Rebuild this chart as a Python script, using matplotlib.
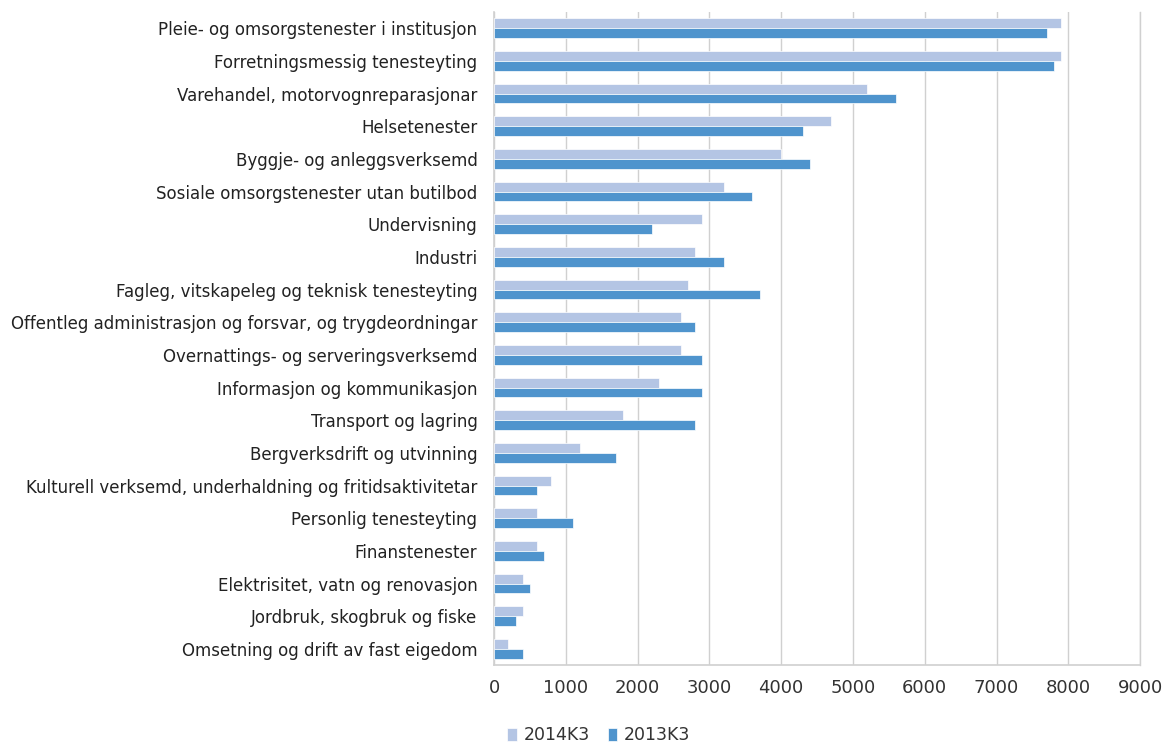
import matplotlib.pyplot as plt
import numpy as np

# categories top to bottom
categories = [
    "Pleie- og omsorgstenester i institusjon",
    "Forretningsmessig tenesteyting",
    "Varehandel, motorvognreparasjonar",
    "Helsetenester",
    "Byggje- og anleggsverksemd",
    "Sosiale omsorgstenester utan butilbod",
    "Undervisning",
    "Industri",
    "Fagleg, vitskapeleg og teknisk tenesteyting",
    "Offentleg administrasjon og forsvar, og trygdeordningar",
    "Overnattings- og serveringsverksemd",
    "Informasjon og kommunikasjon",
    "Transport og lagring",
    "Bergverksdrift og utvinning",
    "Kulturell verksemd, underhaldning og fritidsaktivitetar",
    "Personlig tenesteyting",
    "Finanstenester",
    "Elektrisitet, vatn og renovasjon",
    "Jordbruk, skogbruk og fiske",
    "Omsetning og drift av fast eigedom",
]
v2014 = [7900, 7900, 5200, 4700, 4000, 3200, 2900, 2800, 2700, 2600,
         2600, 2300, 1800, 1200, 800, 600, 600, 400, 400, 200]
v2013 = [7700, 7800, 5600, 4300, 4400, 3600, 2200, 3200, 3700, 2800,
         2900, 2900, 2800, 1700, 600, 1100, 700, 500, 300, 400]
xticks = list(range(0, 9001, 1000))

light = "#b4c5e4"
dark = "#4f94cd"
gridc = "#d0d0d0"

fig = plt.figure(figsize=(11.63, 7.45), dpi=100)
ax = fig.add_axes([0.4248, 0.107, 0.5555, 0.877])

y = np.arange(len(categories))
h = 0.3
ax.barh(y - h / 2, v2014, height=h, color=light, edgecolor="white", linewidth=0.5, label="2014K3", zorder=3)
ax.barh(y + h / 2, v2013, height=h, color=dark, edgecolor="white", linewidth=0.5, label="2013K3", zorder=3)

ax.set_ylim(len(categories) - 0.5, -0.5)
ax.set_xlim(0, 9000)
ax.set_xticks(xticks)
ax.set_xticklabels([str(t) for t in xticks], fontsize=13, color="#333333")
ax.set_yticks(y)
ax.set_yticklabels(categories, fontsize=12, color="#222222")
ax.tick_params(axis="both", length=0)
ax.tick_params(axis="x", pad=10)
ax.tick_params(axis="y", pad=12)

ax.grid(axis="x", color=gridc, linewidth=1, zorder=0)
ax.spines["top"].set_visible(False)
for s in ["left", "bottom", "right"]:
    ax.spines[s].set_color(gridc)
    ax.spines[s].set_linewidth(1.2)
ax.spines["right"].set_linewidth(1.0)

leg = fig.legend(loc="lower center", bbox_to_anchor=(0.515, -0.02), ncol=2, frameon=False,
                 fontsize=12.5, handlelength=0.55, handleheight=0.75, handletextpad=0.4, columnspacing=1.0)
for t in leg.get_texts():
    t.set_color("#333333")

fig.savefig("out.png", dpi=100)
